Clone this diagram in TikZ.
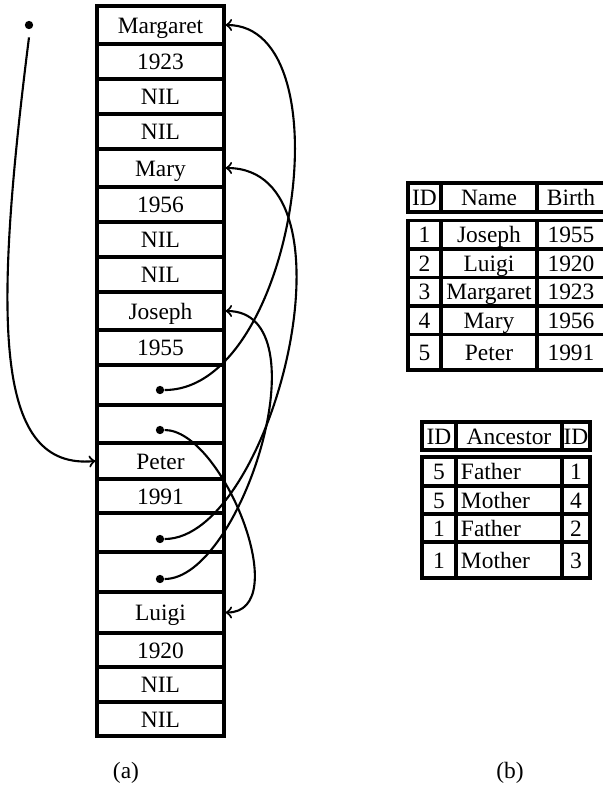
\documentclass[tikz,border=0pt]{standalone}
\usepackage{fontspec}
\setmainfont{Liberation Serif}

\begin{document}
\begin{tikzpicture}[x=0.015cm, y=-0.015cm, font=\fontsize{10}{12}\selectfont]
% STYLES
\tikzset{%
    cell/.style={%
draw,
line width=1.3pt,
rectangle,
inner sep=0pt,
text height=7pt,
text depth=0pt
                },
    span/.style n args={4}{%
minimum width={(#3-#1)*0.015cm},
minimum height={(#4-#2)*0.015cm},
at={({(#1+#3)/2},{(#2+#4)/2})}
                },
    ptr/.style={circle, fill, inner sep=0pt, minimum size=0.125cm},
    root/.style={ptr, outer sep=3.5pt},
    link/.style={->, line width=0.9pt}
             }
\useasboundingbox (0,0) rectangle (603,791);

% Draw the memory cells
\foreach \txt/\ya/\yb [count=\i] in {Margaret/6/44, 1923/44/79, NIL/79/114, NIL/114/149,
    Mary/149/187, 1956/187/222, NIL/222/257, NIL/257/292, Joseph/292/330, 1955/330/365,
    /365/405, /405/443, Peter/443/479, 1991/479/513, /513/552, /552/592,
    Luigi/592/633, 1920/633/667, NIL/667/702, NIL/702/736}
  \node[cell, span={97}{\ya}{224}{\yb}] (c\i) {\txt};

% Draw the pointers
\node[root] (root) at (29,25) {};
\node[ptr] (josmom) at (160,390) {};
\node[ptr] (josdad) at (160,430) {};
\node[ptr] (petmom) at (160,539) {};
\node[ptr] (petdad) at (160,579) {};

% Draw the links between cells
\draw[link] (root.south) .. controls (-8,330) and (-4,470) .. (c13.west);
\draw[link] (josmom.east) .. controls +(131,0) and +(122,0) .. (c1.east);
\draw[link] (josdad.east) .. controls +(58,0) and +(70,0) .. (c17.east);
\draw[link] (petmom.east) .. controls +(107,0) and +(140,0) .. (c5.east);
\draw[link] (petdad.east) .. controls +(77,0) and +(100,0) .. (c9.east);

% Draw the person table
\node[cell, span={408}{183}{441}{212}] (pidhd) {ID};
\node[cell, span={441}{183}{537}{212}] (pnamehd) {Name};
\node[cell, span={537}{183}{605}{212}] (pbirthhd) {Birth};
\foreach \id/\who/\yr/\ya/\yb [count=\r] in {1/Joseph/1955/220.5/249, 2/Luigi/1920/249/277.5,
    3/Margaret/1923/277.5/306, 4/Mary/1956/306/334.5, 5/Peter/1991/334.5/370}
{
  \node[cell, span={408}{\ya}{441}{\yb}] (pid\r) {\id};
  \node[cell, span={441}{\ya}{537}{\yb}] (pname\r) {\who};
  \node[cell, span={537}{\ya}{605}{\yb}] (pbirth\r) {\yr};
}

% Draw the ancestor table
\node[cell, span={422}{422}{456}{450}] (akidhd) {ID};
\node[cell, span={456}{422}{562}{450}] (arelhd) {Ancestor};
\node[cell, span={562}{422}{590}{450}] (aparhd) {ID};
\foreach \kid/\rel/\anc/\ya/\yb [count=\r] in {5/Father/1/457/486, 5/Mother/4/486/514,
    1/Father/2/514/542, 1/Mother/3/542/578}
{
  \node[cell, span={422}{\ya}{456}{\yb}] (akid\r) {\kid};
  \node[cell, span={456}{\ya}{562}{\yb}, text width=1.44cm, align=left] (arel\r) {\rel};
  \node[cell, span={562}{\ya}{590}{\yb}] (apar\r) {\anc};
}

% Captions
\node (capa) at (126,773) {(a)};
\node (capb) at (510,773) {(b)};
\end{tikzpicture}
\end{document}
